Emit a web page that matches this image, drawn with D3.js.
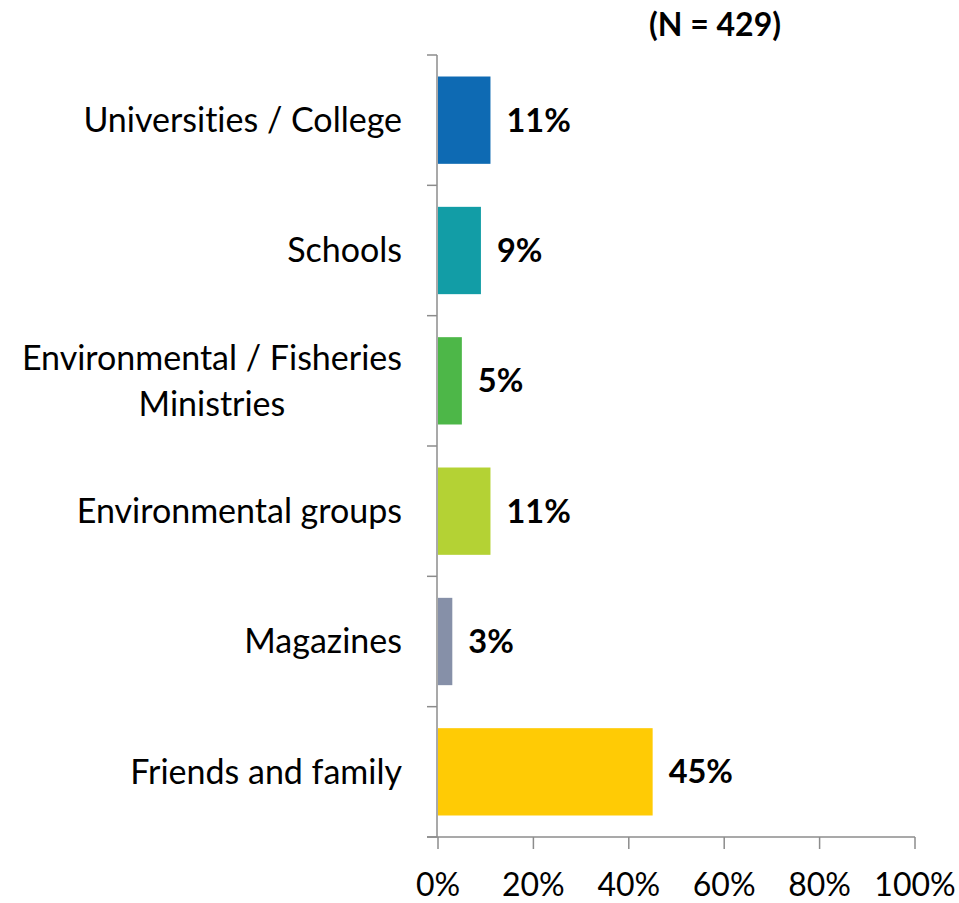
<!DOCTYPE html>
<html><head><meta charset="utf-8">
<script src="https://cdn.jsdelivr.net/npm/d3@7"></script>
<style>body{margin:0;background:#fff}svg{display:block}text{font-family:Lato,"Open Sans",sans-serif;font-variant-ligatures:none}</style>
</head><body><svg id="c" width="959" height="903"></svg>
<script>
const categories = ["Universities / College","Schools","Environmental / Fisheries\nMinistries","Environmental groups","Magazines","Friends and family"];
const values = [11, 9, 5, 11, 3, 45];
const colors = ["#0E6AB3","#129DA6","#4DB748","#B4D234","#8690A8","#FFCB05"];
const xTicks = [0,20,40,60,80,100];
const title = "(N = 429)";

const svg = d3.select("#c");
const x = d3.scaleLinear().domain([0,100]).range([438,915]);
const y = d3.scaleBand().domain(categories).range([55,837]).paddingInner(0.33).paddingOuter(0.165);

// bars
svg.selectAll("rect.bar").data(categories).join("rect")
  .attr("x", x(0)).attr("y", d=>y(d))
  .attr("width", (d,i)=>x(values[i])-x(0)).attr("height", y.bandwidth())
  .attr("fill",(d,i)=>colors[i]);

// y axis
const yAxisG = svg.append("g").attr("transform","translate(437,0)");
yAxisG.append("line").attr("x1",0).attr("x2",0).attr("y1",55).attr("y2",837).attr("stroke","#8c8c8c").attr("stroke-width",1.5);
const bounds = categories.map((d,i)=>55 + i*(782/6)).concat([837]);
yAxisG.selectAll("line.t").data(bounds).join("line").attr("class","t")
  .attr("x1",-10).attr("x2",0).attr("y1",d=>d).attr("y2",d=>d).attr("stroke","#8c8c8c").attr("stroke-width",1.5);

// x axis
const xAxisG = svg.append("g").attr("transform","translate(0,837)");
xAxisG.append("line").attr("x1",427).attr("x2",x(100)).attr("y1",0).attr("y2",0).attr("stroke","#8c8c8c").attr("stroke-width",1.5);
xAxisG.selectAll("line.t").data(xTicks).join("line").attr("class","t")
  .attr("x1",d=>x(d)).attr("x2",d=>x(d)).attr("y1",0).attr("y2",12).attr("stroke","#8c8c8c").attr("stroke-width",1.5);
xAxisG.selectAll("text").data(xTicks).join("text")
  .attr("x",d=>x(d)).attr("y",48).attr("dy","0.35em").attr("text-anchor","middle")
  .attr("font-size",32).attr("fill","#000").text(d=>d+"%");

// category labels
svg.selectAll("text.cat").data(categories).join("text").attr("class","cat")
  .attr("font-size",34).attr("fill","#000")
  .each(function(d){
    const lines = d.split("\n");
    const t = d3.select(this);
    const cy = y(d)+y.bandwidth()/2;
    const lh = 46;
    if(lines.length===1){
      t.attr("x",402).attr("y",cy).attr("dy","0.35em").attr("text-anchor","end").text(d);
    } else {
      t.attr("text-anchor","middle");
      lines.forEach((l,k)=>{
        t.append("tspan").attr("x",0).attr("y",cy+(k-(lines.length-1)/2)*lh).attr("dy","0.35em").text(l);
      });
    }
  });
svg.selectAll("text.cat").each(function(d){
  if(d.includes("\n")){
    const t=d3.select(this);
    let w=0; t.selectAll("tspan").each(function(){w=Math.max(w,this.getComputedTextLength());});
    t.selectAll("tspan").attr("x",402-w/2);
  }
});

// value labels
svg.selectAll("text.val").data(categories).join("text").attr("class","val")
  .attr("x",(d,i)=>x(values[i])+16).attr("y",d=>y(d)+y.bandwidth()/2).attr("dy","0.35em")
  .attr("font-size",32.5).attr("font-weight","bold").attr("fill","#000")
  .text((d,i)=>values[i]+"%");

svg.append("text").attr("x",715).attr("y",25).attr("dy","0.35em").attr("text-anchor","middle")
  .attr("font-size",32).attr("font-weight","bold").text(title);
</script></body></html>
